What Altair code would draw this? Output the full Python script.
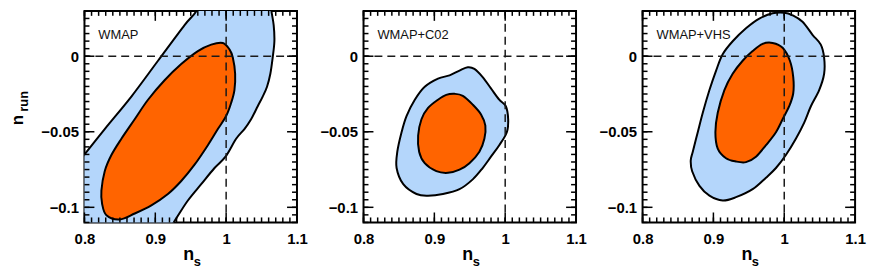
import altair as alt
import pandas as pd

# ---------------- data ----------------
XDOM = [0.8, 1.1]
YDOM = [-0.11, 0.03]
x_major = [0.8, 0.9, 1.0, 1.1]
y_major = [-0.1, -0.05, 0.0]
x_minor = [round(0.8 + 0.01 * i, 3) for i in range(31)]
y_minor = [round(-0.11 + 0.005 * i, 4) for i in range(29)]

panel_names = ["WMAP", "WMAP+C02", "WMAP+VHS"]

# WMAP (outer contour extends beyond the frame and is clipped)
p1_outer_x = [0.760, 0.7958, 0.8286, 0.8662, 0.9038, 0.9413, 0.9601, 0.985, 1.030, 1.058,
              1.0634, 1.0671, 1.0681, 1.0657, 1.0624, 1.0577, 1.0516, 1.0446, 1.0352, 1.0258,
              1.0141, 0.9991, 0.9836, 0.9648, 0.9460, 0.9296, 0.915, 0.880, 0.760]
p1_outer_y = [-0.089, -0.0675, -0.0482, -0.0267, -0.0030, 0.0206, 0.0314, 0.055, 0.070, 0.050,
              0.0314, 0.0206, 0.0099, -0.0009, -0.0116, -0.0202, -0.0267, -0.0331, -0.0417, -0.0482,
              -0.0546, -0.0665, -0.0740, -0.0847, -0.0955, -0.1073, -0.118, -0.140, -0.140]
p1_inner_x = [0.9953, 1.0047, 1.0094, 1.0127, 1.0117, 1.0070, 1.0000, 0.9883, 0.9742, 0.9554,
              0.9366, 0.9178, 0.8944, 0.8709, 0.8498, 0.8310, 0.8249, 0.8239, 0.8286, 0.8380,
              0.8521, 0.8709, 0.8897, 0.9131, 0.9366, 0.9601, 0.9789]
p1_inner_y = [0.0088, 0.0045, -0.0009, -0.0116, -0.0224, -0.0310, -0.0396, -0.0482, -0.0589, -0.0718,
              -0.0826, -0.0912, -0.0987, -0.1041, -0.1080, -0.1052, -0.0976, -0.0890, -0.0761, -0.0654,
              -0.0546, -0.0417, -0.0288, -0.0159, -0.0052, 0.0034, 0.0077]

# WMAP+C02
p2_outer_x = [0.9472, 0.9565, 0.9682, 0.9799, 0.9916, 1.0009, 1.0042, 1.0023, 0.9916, 0.9799,
              0.9682, 0.9542, 0.9355, 0.9121, 0.8911, 0.8748, 0.8561, 0.8467, 0.8477, 0.8537,
              0.8607, 0.8724, 0.8864, 0.9051, 0.9215, 0.9355]
p2_outer_y = [-0.0073, -0.0084, -0.0138, -0.0213, -0.0288, -0.0331, -0.0417, -0.0503, -0.0589, -0.0665,
              -0.0740, -0.0815, -0.0880, -0.0912, -0.0923, -0.0912, -0.0847, -0.0740, -0.0632, -0.0503,
              -0.0396, -0.0288, -0.0202, -0.0148, -0.0127, -0.0095]
p2_inner_x = [0.9285, 0.9402, 0.9542, 0.9659, 0.9720, 0.9706, 0.9636, 0.9495, 0.9355, 0.9192,
              0.9028, 0.8864, 0.8785, 0.8771, 0.8818, 0.8911, 0.9051, 0.9168]
p2_inner_y = [-0.0249, -0.0262, -0.0320, -0.0385, -0.0460, -0.0546, -0.0632, -0.0708, -0.0751, -0.0772,
              -0.0761, -0.0708, -0.0632, -0.0525, -0.0417, -0.0342, -0.0288, -0.0256]

# WMAP+VHS
p3_outer_x = [1.0000, 1.0117, 1.0258, 1.0399, 1.0516, 1.0563, 1.0563, 1.0493, 1.0376, 1.0282,
              1.0164, 1.0023, 0.9883, 0.9742, 0.9554, 0.9319, 0.9131, 0.8944, 0.8803, 0.8700,
              0.8680, 0.8709, 0.8779, 0.8850, 0.8944, 0.9038, 0.9131, 0.9272, 0.9460, 0.9648, 0.9836]
p3_outer_y = [0.0288, 0.0271, 0.0228, 0.0142, 0.0077, -0.0009, -0.0116, -0.0224, -0.0331, -0.0439,
              -0.0546, -0.0654, -0.0740, -0.0804, -0.0880, -0.0933, -0.0955, -0.0923, -0.0858, -0.0761,
              -0.0690, -0.0632, -0.0503, -0.0374, -0.0224, -0.0095, 0.0013, 0.0099, 0.0185, 0.0249, 0.0284]
p3_inner_x = [0.9836, 0.9977, 1.0080, 1.0127, 1.0127, 1.0070, 0.9977, 0.9883, 0.9742, 0.9601,
              0.9460, 0.9319, 0.9178, 0.9061, 0.9028, 0.9061, 0.9155, 0.9272, 0.9413, 0.9554, 0.9695]
p3_inner_y = [0.0088, 0.0056, -0.0030, -0.0138, -0.0245, -0.0331, -0.0417, -0.0503, -0.0589, -0.0665,
              -0.0701, -0.0697, -0.0675, -0.0611, -0.0503, -0.0374, -0.0224, -0.0116, -0.0030, 0.0034, 0.0082]

outers = [(p1_outer_x, p1_outer_y), (p2_outer_x, p2_outer_y), (p3_outer_x, p3_outer_y)]
inners = [(p1_inner_x, p1_inner_y), (p2_inner_x, p2_inner_y), (p3_inner_x, p3_inner_y)]

# ---------------- style ----------------
W, H = 214, 213
BLUE = "#b4d6fb"
ORANGE = "#ff6400"
FONT = "Liberation Sans"
MAJ, MIN = 10, 5

xs = alt.Scale(domain=XDOM, nice=False, zero=False)
ys = alt.Scale(domain=YDOM, nice=False, zero=False)

x_axis = alt.Axis(values=x_major, format="~g", title=None, ticks=False, tickSize=0, domain=False,
                  grid=False, labelFontSize=15, labelFont=FONT, labelFontWeight="bold",
                  labelPadding=9, labelColor="black", labelFlush=False, labelOverlap=False)
y_axis = alt.Axis(values=y_major, format="~g", title=None, ticks=False, tickSize=0, domain=False,
                  grid=False, labelFontSize=15, labelFont=FONT, labelFontWeight="bold",
                  labelPadding=6, labelColor="black", labelFlush=False, labelOverlap=False)

one = pd.DataFrame({"a": [0]})


def X(field):
    return alt.X(field, scale=xs, axis=x_axis)


def Y(field):
    return alt.Y(field, scale=ys, axis=y_axis)


def polygon(px, py, color):
    df = pd.DataFrame({"x": px, "y": py, "i": list(range(len(px)))})
    return alt.Chart(df).mark_line(
        fill=color, stroke="black", strokeWidth=2, interpolate="cardinal-closed",
        clip=True, strokeJoin="round"
    ).encode(x=X("x:Q"), y=Y("y:Q"), order=alt.Order("i:Q"))


def tick_layers():
    layers = []
    for vals, L in ((x_minor, MIN), (x_major, MAJ)):
        base = alt.Chart(pd.DataFrame({"v": vals})).mark_rule(color="black", strokeWidth=1.5)
        layers.append(base.encode(x=X("v:Q"), y=alt.value(H), y2=alt.value(H - L)))
        layers.append(base.encode(x=X("v:Q"), y=alt.value(0), y2=alt.value(L)))
    for vals, L in ((y_minor, MIN), (y_major, MAJ)):
        base = alt.Chart(pd.DataFrame({"v": vals})).mark_rule(color="black", strokeWidth=1.5)
        layers.append(base.encode(y=Y("v:Q"), x=alt.value(0), x2=alt.value(L)))
        layers.append(base.encode(y=Y("v:Q"), x=alt.value(W), x2=alt.value(W - L)))
    return layers


def panel(k):
    ox, oy = outers[k]
    ix, iy = inners[k]
    layers = [polygon(ox, oy, BLUE), polygon(ix, iy, ORANGE)]
    dash = dict(strokeDash=[8, 5], strokeWidth=1.5, color="#1a1a1a")
    layers.append(alt.Chart(pd.DataFrame({"v": [1.0]})).mark_rule(**dash).encode(x=X("v:Q")))
    layers.append(alt.Chart(pd.DataFrame({"v": [0.0]})).mark_rule(**dash).encode(y=Y("v:Q")))
    layers += tick_layers()
    layers.append(alt.Chart(one).mark_text(
        text=panel_names[k], align="left", baseline="alphabetic", fontSize=13, font=FONT,
        color="#111").encode(x=alt.value(14), y=alt.value(28)))
    # x title n_s
    layers.append(alt.Chart(one).mark_text(
        text="n", align="center", baseline="alphabetic", fontSize=18, font=FONT,
        fontWeight="bold", color="black").encode(x=alt.value(105), y=alt.value(H + 38)))
    layers.append(alt.Chart(one).mark_text(
        text="s", align="left", baseline="alphabetic", fontSize=13, font=FONT,
        fontWeight="bold", color="black").encode(x=alt.value(110), y=alt.value(H + 44)))
    if k == 0:
        layers.append(alt.Chart(one).mark_text(
            text="n", align="center", baseline="middle", angle=270, fontSize=17, font=FONT,
            fontWeight="bold", color="black").encode(x=alt.value(-67), y=alt.value(110)))
        layers.append(alt.Chart(one).mark_text(
            text="run", align="center", baseline="middle", angle=270, fontSize=13, font=FONT,
            fontWeight="bold", color="black").encode(x=alt.value(-61), y=alt.value(91)))
    return alt.layer(*layers).properties(width=W, height=H)


chart = alt.HConcatChart(
    hconcat=[panel(0), panel(1), panel(2)], spacing=67, bounds="flush"
).configure_view(stroke="black", strokeWidth=2).properties(
    padding={"left": 0, "top": 0, "right": 0, "bottom": 0}, background="white"
)

chart.save("out.html", embed_options={"renderer": "svg", "actions": False})
